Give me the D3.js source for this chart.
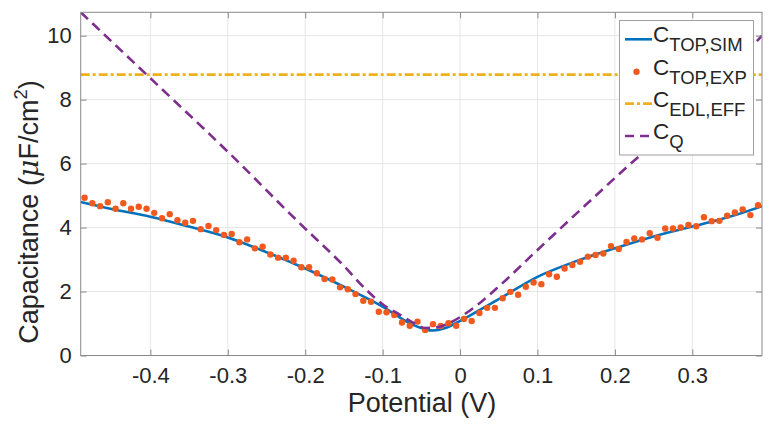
<!DOCTYPE html>
<html><head><meta charset="utf-8">
<script src="https://cdn.jsdelivr.net/npm/d3@7"></script>
<style>html,body{margin:0;padding:0;background:#fff;}svg{display:block;font-family:"Liberation Sans",Arial,sans-serif;}</style>
</head><body>
<svg id="chart" width="773" height="428"></svg>
<script>
// ---- data ----
const xTicks = [-0.4, -0.3, -0.2, -0.1, 0, 0.1, 0.2, 0.3];
const xTickLabels = ["-0.4", "-0.3", "-0.2", "-0.1", "0", "0.1", "0.2", "0.3"];
const yTicks = [0, 2, 4, 6, 8, 10];
const yTickLabels = ["0", "2", "4", "6", "8", "10"];

const simV = [-0.49,-0.45,-0.40,-0.35,-0.30,-0.25,-0.20,-0.15,-0.10,-0.08,-0.06,-0.045,-0.035,-0.02,0,0.025,0.05,0.10,0.15,0.20,0.25,0.30,0.35,0.39];
const simC = [4.80,4.58,4.34,4.03,3.69,3.23,2.72,2.15,1.53,1.22,0.95,0.82,0.78,0.85,1.08,1.42,1.76,2.46,2.95,3.35,3.72,4.03,4.35,4.67];

const expV = [-0.485,-0.475,-0.465,-0.455,-0.445,-0.435,-0.425,-0.415,-0.405,-0.395,-0.385,-0.375,-0.365,-0.355,-0.345,-0.335,-0.325,-0.315,-0.305,-0.295,-0.285,-0.275,-0.265,-0.255,-0.245,-0.235,-0.225,-0.215,-0.205,-0.195,-0.185,-0.175,-0.165,-0.155,-0.145,-0.135,-0.125,-0.115,-0.105,-0.095,-0.085,-0.075,-0.065,-0.055,-0.045,-0.035,-0.025,-0.015,-0.005,0.005,0.015,0.025,0.035,0.045,0.055,0.065,0.075,0.085,0.095,0.105,0.115,0.125,0.135,0.145,0.155,0.165,0.175,0.185,0.195,0.205,0.215,0.225,0.235,0.245,0.255,0.265,0.275,0.285,0.295,0.305,0.315,0.325,0.335,0.345,0.355,0.365,0.375,0.385];
const expC = [4.93,4.76,4.67,4.79,4.59,4.76,4.59,4.65,4.59,4.46,4.29,4.42,4.23,4.15,4.21,3.95,4.05,3.92,3.77,3.80,3.54,3.63,3.35,3.40,3.16,3.06,3.06,2.96,2.76,2.76,2.57,2.39,2.38,2.13,2.07,1.92,1.71,1.68,1.37,1.35,1.27,1.03,0.93,1.06,0.80,0.98,0.92,1.01,0.93,1.14,1.08,1.33,1.49,1.49,1.79,1.99,1.90,2.15,2.28,2.23,2.54,2.46,2.72,2.83,2.93,3.09,3.14,3.19,3.42,3.33,3.55,3.66,3.63,3.82,3.68,3.97,3.97,4.00,4.08,4.04,4.32,4.20,4.21,4.37,4.47,4.57,4.39,4.70];

const edlV = [-0.49, 0.39];
const edlC = [8.78, 8.78];

const qV = [-0.49,-0.40,-0.30,-0.207,-0.15,-0.121,-0.10,-0.078,-0.06,-0.045,-0.03,-0.015,0,0.026,0.052,0.10,0.20,0.30,0.39];
const qC = [10.73,8.67,6.37,4.13,2.80,2.05,1.60,1.28,1.02,0.86,0.88,1.00,1.20,1.65,2.20,3.30,5.55,7.75,10.0];

const legendLabels = [["C","TOP,SIM"],["C","TOP,EXP"],["C","EDL,EFF"],["C","Q"]];

// ---- layout ----
const L = 80.7, R = 762, T = 12.3, B = 355.5;
const svg = d3.select("#chart");
const x = d3.scaleLinear().domain([-0.49, 0.39]).range([L, R]);
const y = d3.scaleLinear().domain([0, 10.73]).range([B, T]);
const textCol = "#262626", axisCol = "#8a8a8a", gridCol = "#e6e6e6";

// grid
const grid = svg.append("g");
grid.selectAll(".gx").data(xTicks).join("line")
  .attr("x1", d => x(d)).attr("x2", d => x(d)).attr("y1", T).attr("y2", B)
  .attr("stroke", gridCol).attr("stroke-width", 1);
grid.selectAll(".gy").data(yTicks).join("line")
  .attr("y1", d => y(d)).attr("y2", d => y(d)).attr("x1", L).attr("x2", R)
  .attr("stroke", gridCol).attr("stroke-width", 1);

// clip
svg.append("clipPath").attr("id", "clip").append("rect")
  .attr("x", L).attr("y", T).attr("width", R - L).attr("height", B - T);
const plot = svg.append("g").attr("clip-path", "url(#clip)");

const zip = (a, b) => a.map((v, i) => [v, b[i]]);

// blue sim
plot.append("path").datum(zip(simV, simC))
  .attr("d", d3.line().x(d => x(d[0])).y(d => y(d[1])).curve(d3.curveCatmullRom)).attr("fill", "none")
  .attr("stroke", "#0072BD").attr("stroke-width", 2.6);
// exp dots
plot.selectAll(".dot").data(zip(expV, expC)).join("circle")
  .attr("cx", d => x(d[0])).attr("cy", d => y(d[1])).attr("r", 3.2)
  .attr("fill", "#F05A1E");
// yellow EDL
plot.append("path").datum(zip(edlV, edlC))
  .attr("d", d3.line().x(d => x(d[0])).y(d => y(d[1]))).attr("fill", "none")
  .attr("stroke", "#EDB120").attr("stroke-width", 2.6).attr("stroke-dasharray", "9,3,3,3");
// purple Q
plot.append("path").datum(zip(qV, qC))
  .attr("d", d3.line().x(d => x(d[0])).y(d => y(d[1])).curve(d3.curveMonotoneX)).attr("fill", "none")
  .attr("stroke", "#7E2F8E").attr("stroke-width", 2.6).attr("stroke-dasharray", "10,6");

// axes box
svg.append("rect").attr("x", L).attr("y", T).attr("width", R - L).attr("height", B - T)
  .attr("fill", "none").attr("stroke", axisCol).attr("stroke-width", 1);

// axes via d3
const ax = svg.append("g").attr("transform", `translate(0,${B})`)
  .call(d3.axisBottom(x).tickValues(xTicks).tickFormat((d, i) => xTickLabels[i]).tickSizeInner(-6).tickSizeOuter(0).tickPadding(12));
const axT = svg.append("g").attr("transform", `translate(0,${T})`)
  .call(d3.axisTop(x).tickValues(xTicks).tickFormat("").tickSizeInner(-6).tickSizeOuter(0));
const ay = svg.append("g").attr("transform", `translate(${L},0)`)
  .call(d3.axisLeft(y).tickValues(yTicks).tickFormat((d, i) => yTickLabels[i]).tickSizeInner(-6).tickSizeOuter(0).tickPadding(9));
const ayR = svg.append("g").attr("transform", `translate(${R},0)`)
  .call(d3.axisRight(y).tickValues(yTicks).tickFormat("").tickSizeInner(-6).tickSizeOuter(0));
[ax, axT, ay, ayR].forEach(g => {
  g.select(".domain").remove();
  g.selectAll(".tick line").attr("stroke", axisCol);
  g.selectAll(".tick text").attr("fill", textCol).style("font-size", "22px")
    .style("font-family", "'Liberation Sans', Arial, sans-serif");
});
ax.selectAll(".tick text").attr("dy", "0.71em");

// axis labels
svg.append("text").attr("x", 422).attr("y", 412).attr("text-anchor", "middle")
  .attr("fill", textCol).style("font-size", "27px").text("Potential (V)");
const yl = svg.append("text").attr("transform", "translate(38,212) rotate(-90)")
  .attr("text-anchor", "middle").attr("fill", textCol).style("font-size", "27px");
yl.append("tspan").text("Capacitance (");
yl.append("tspan").style("font-style", "italic").style("font-family", "'DejaVu Serif', serif").text("μ");
yl.append("tspan").text("F/cm");
yl.append("tspan").attr("dy", -11).style("font-size", "18.5px").text("2");
yl.append("tspan").attr("dy", 11).text(")");

// legend
const lg = svg.append("g");
lg.append("rect").attr("x", 619.5).attr("y", 20.5).attr("width", 134).attr("height", 134.5)
  .attr("fill", "#fff").attr("stroke", "#a0a0a0").attr("stroke-width", 1);
const rowY = [39.3, 71.7, 103.6, 136];
const sx0 = 625, sx1 = 652;
lg.append("line").attr("x1", sx0).attr("x2", sx1).attr("y1", rowY[0]).attr("y2", rowY[0])
  .attr("stroke", "#0072BD").attr("stroke-width", 2.6);
lg.append("circle").attr("cx", (sx0 + sx1) / 2 - 2).attr("cy", rowY[1]).attr("r", 3.2).attr("fill", "#F05A1E");
lg.append("line").attr("x1", sx0).attr("x2", sx1).attr("y1", rowY[2]).attr("y2", rowY[2])
  .attr("stroke", "#EDB120").attr("stroke-width", 2.6).attr("stroke-dasharray", "9,3,3,3");
lg.append("line").attr("x1", sx0).attr("x2", sx1).attr("y1", rowY[3]).attr("y2", rowY[3])
  .attr("stroke", "#7E2F8E").attr("stroke-width", 2.6).attr("stroke-dasharray", "9,6");
legendLabels.forEach((lab, i) => {
  const t = lg.append("text").attr("x", 653).attr("y", rowY[i] + 3).attr("fill", textCol).style("font-size", "22.5px");
  t.append("tspan").text(lab[0]);
  t.append("tspan").attr("dy", 9).style("font-size", "18.5px").text(lab[1]);
});
</script>
</body></html>
